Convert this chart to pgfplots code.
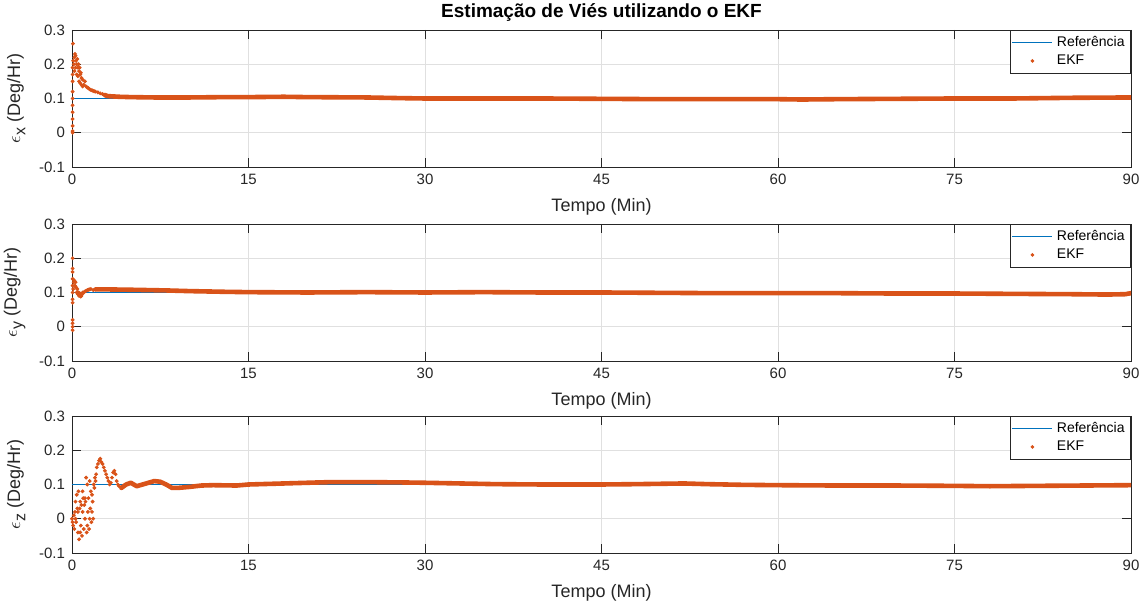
\documentclass[border=0pt]{standalone}
\usepackage{fontspec}
\setmainfont{Liberation Sans}
\usepackage{pgfplots}
\pgfplotsset{compat=1.18}
\definecolor{mblue}{rgb}{0,0.447,0.741}
\definecolor{morange}{rgb}{0.85,0.325,0.098}
\definecolor{mgrid}{gray}{0.88}
\definecolor{maxis}{gray}{0.15}
\newcommand{\eps}[1]{$\epsilon$\raisebox{-0.55ex}{\fontsize{8}{9}\selectfont #1}}
\pgfplotsset{myax/.style={
 width=529.5pt,height=68.5pt,scale only axis,
 xmin=0,xmax=90,ymin=-0.1,ymax=0.3,
 xtick={0,15,30,45,60,75,90}, ytick={-0.1,0,0.1,0.2,0.3},
 grid=major, major grid style={mgrid, line width=0.4pt},
 tick align=inside, major tick length=4.5pt,
 axis line style={maxis, line width=0.4pt}, tick style={maxis, line width=0.4pt},
 /pgf/number format/assume math mode=true,
 ticklabel style={font=\fontsize{7.5}{9}\selectfont, text=maxis},
 label style={font=\fontsize{9}{10}\selectfont, text=maxis},
 xlabel={Tempo (Min)},
 xlabel style={yshift=0pt},
 legend style={at={(1,1)},anchor=north east, draw=maxis, line width=0.4pt,
   font=\fontsize{7}{8}\selectfont, inner sep=1pt, row sep=-1.5pt, cells={anchor=west}},
 legend cell align=left,
},
refl/.style={mblue, line width=0.5pt, legend image code/.code={\draw[mblue,line width=0.5pt] (0pt,0pt) -- (20pt,0pt);}},
ekfm/.style={only marks, mark=*, mark size=0.75pt, morange, legend image code/.code={\fill[morange] (10pt,0pt) circle (0.7pt);}},
ekfl/.style={morange, line width=2.3pt, line join=round, line cap=round, forget plot},
}
\begin{document}
\begin{tikzpicture}
\useasboundingbox (0,0) rectangle (572.5pt,304pt);
% ---------- epsilon x ----------
\begin{axis}[myax, at={(36pt,220.5pt)}, anchor=south west,
  title={\textbf{Estimação de Viés utilizando o EKF}},
  title style={font=\fontsize{9.5}{10}\selectfont, yshift=-5.5pt},
  ylabel={\eps{x} (Deg/Hr)}]
\addplot[refl] coordinates {(0,0.1)(90,0.1)};
\addlegendentry{Referência}
\addplot[ekfm] coordinates {
(0.05,0)(0.05,0.005)(0.05,0.02)(0.05,0.04)(0.05,0.06)(0.05,0.08)(0.05,0.1)(0.05,0.12)
(0.05,0.15)(0.05,0.17)(0.05,0.19)(0.08,0.26)(0.1,0.21)(0.15,0.2)(0.2,0.22)(0.25,0.23)
(0.3,0.225)(0.35,0.21)(0.4,0.2)(0.45,0.215)(0.5,0.19)(0.55,0.2)(0.6,0.18)(0.65,0.19)
(0.7,0.17)(0.75,0.175)(0.8,0.16)(0.9,0.155)(1.0,0.14)(1.1,0.15)(1.2,0.135)(1.3,0.132)
(1.4,0.13)(1.5,0.127)(1.6,0.125)(1.7,0.124)(1.8,0.122)(1.9,0.121)(2.0,0.12)(2.2,0.118)
(2.4,0.115)(2.6,0.113)(2.8,0.11)(3.0,0.108)
(0.2,0.18)(0.3,0.19)(0.4,0.17)(0.5,0.165)(0.6,0.15)(0.7,0.145)(0.8,0.14)(0.9,0.135)
};
\addlegendentry{EKF}
\addplot[ekfl] coordinates {
(2.8,0.11)(3,0.107)(4,0.105)(5,0.104)(7,0.103)(10,0.103)(13,0.104)(15,0.104)(18,0.105)
(20,0.104)(25,0.103)(28,0.101)(30,0.1)(35,0.1)(40,0.1)(45,0.099)(50,0.098)(55,0.098)
(60,0.098)(62,0.097)(65,0.098)(70,0.099)(75,0.1)(80,0.1)(85,0.102)(90,0.103)};
\end{axis}
% ---------- epsilon y ----------
\begin{axis}[myax, at={(36pt,123.5pt)}, anchor=south west,
  ylabel={\eps{y} (Deg/Hr)}]
\addplot[refl] coordinates {(0,0.1)(90,0.1)};
\addlegendentry{Referência}
\addplot[ekfm] coordinates {
(0.05,0.2)(0.05,0.17)(0.05,0.16)(0.05,0.14)(0.05,0.12)(0.05,0.1)(0.05,0.08)(0.05,0.07)
(0.05,0.02)(0.05,0.01)(0.05,0)(0.05,-0.01)(0.1,0.11)(0.15,0.13)(0.2,0.135)(0.25,0.12)
(0.3,0.13)(0.35,0.115)(0.4,0.1)(0.45,0.11)(0.5,0.095)(0.55,0.1)(0.6,0.09)(0.65,0.098)
(0.7,0.095)(0.75,0.088)(0.8,0.09)(0.85,0.095)(0.9,0.1)(1.0,0.1)(1.1,0.103)(1.2,0.105)
(1.3,0.107)(1.4,0.108)(1.5,0.109)(1.6,0.11)(1.8,0.107)(2.0,0.109)
};
\addlegendentry{EKF}
\addplot[ekfl] coordinates {
(2,0.109)(3,0.109)(5,0.108)(8,0.106)(10,0.104)(13,0.102)(15,0.101)(20,0.1)(25,0.101)
(30,0.1)(35,0.101)(40,0.1)(45,0.1)(50,0.099)(55,0.098)(60,0.098)(65,0.098)(70,0.097)
(75,0.097)(80,0.096)(85,0.095)(88,0.094)(89.5,0.095)(90,0.098)};
\end{axis}
% ---------- epsilon z ----------
\begin{axis}[myax, at={(36pt,27.5pt)}, anchor=south west,
  ylabel={\eps{z} (Deg/Hr)}]
\addplot[refl] coordinates {(0,0.1)(90,0.1)};
\addlegendentry{Referência}
\addplot[ekfm] coordinates {
(0,0)(0.05,-0.01)(0.1,-0.02)(0.15,0.01)(0.2,-0.03)(0.25,0.02)(0.3,0.05)(0.35,-0.01)
(0.4,0.07)(0.45,0.03)(0.5,-0.04)(0.55,0.08)(0.6,-0.06)(0.65,0.03)(0.7,0.05)(0.75,-0.02)
(0.8,0.04)(0.85,-0.05)(0.9,0.02)(0.95,0.06)(1.0,-0.03)(1.05,0.04)(1.1,0.0)(1.15,0.05)
(1.2,0.12)(1.25,-0.04)(1.3,0.1)(1.35,0.02)(1.4,0.06)(1.45,-0.03)(1.5,0.11)(1.55,0.03)
(1.6,0.08)(1.65,-0.01)(1.7,0.02)(1.75,0.05)(1.8,0.0)(1.85,0.1)(1.9,0.09)(1.95,0.12)
(2.0,0.11)(2.05,0.13)(2.1,0.15)(2.2,0.16)(2.3,0.17)(2.4,0.175)(2.5,0.165)(2.6,0.16)
(2.7,0.15)(2.8,0.14)(2.9,0.13)(3.0,0.12)(3.1,0.11)(3.2,0.1)(3.3,0.105)(3.4,0.12)
(3.5,0.135)(3.6,0.14)(3.7,0.13)(3.8,0.11)(3.9,0.1)(4.0,0.095)(4.2,0.09)
(0.3,0.0)(0.5,0.02)(0.7,-0.04)(0.9,0.08)(1.1,0.06)(1.3,-0.02)(1.5,0.0)(1.7,0.07)
};
\addlegendentry{EKF}
\addplot[ekfl] coordinates {
(4.2,0.09)(4.6,0.1)(5.0,0.105)(5.5,0.095)(6,0.1)(6.5,0.105)(7,0.11)(7.5,0.108)(8,0.1)
(8.5,0.09)(9,0.09)(10,0.093)(11,0.097)(12,0.098)(14,0.097)(15,0.1)(17,0.102)(19,0.104)
(22,0.107)(25,0.107)(28,0.106)(30,0.105)(33,0.103)(36,0.101)(40,0.1)(45,0.1)(48,0.101)
(52,0.103)(54,0.101)(57,0.099)(60,0.098)(65,0.097)(70,0.097)(75,0.096)(78,0.095)
(82,0.096)(86,0.097)(90,0.098)};
\end{axis}
\end{tikzpicture}
\end{document}
